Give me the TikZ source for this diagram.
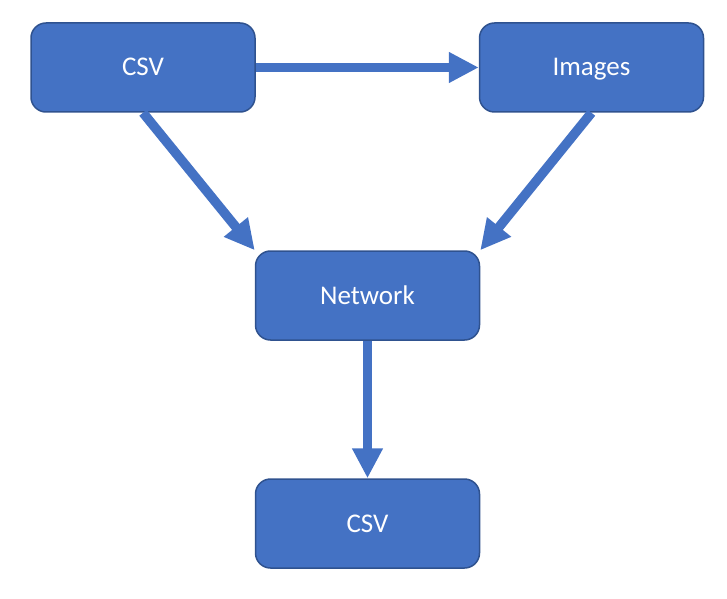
\documentclass[tikz,border=0pt]{standalone}
\usepackage{fontspec}
\setmainfont{Carlito}
\usetikzlibrary{arrows.meta}
\definecolor{boxfill}{HTML}{4472C4}
\definecolor{boxline}{HTML}{2F528F}
\tikzset{
  blockbox/.style={draw=boxline, line width=1.5pt, fill=boxfill, rounded corners=15pt,
    minimum width=224pt, minimum height=89pt, inner sep=0pt, text=white,
    text height=17pt, text depth=-4pt,
    font=\fontsize{27}{32}\selectfont},
  flowarrow/.style={draw=boxfill, line width=9.5pt,
    -{Triangle[length=30pt, width=29pt]}}
}
\begin{document}
\begin{tikzpicture}[x=1pt,y=1pt]
\useasboundingbox (0,0) rectangle (727,598);
\node[blockbox] (csv1) at (143,530.5) {CSV};
\node[blockbox] (img) at (591.5,530.5) {Images};
\node[blockbox] (net) at (367.5,302.5) {Network};
\node[blockbox] (csv2) at (367.5,74.5) {CSV};
\draw[flowarrow] (csv1.east) -- (img.west);
\draw[flowarrow] (csv1.south) -- (net.north west);
\draw[flowarrow] (img.south) -- (net.north east);
\draw[flowarrow] (net.south) -- (csv2.north);
\end{tikzpicture}
\end{document}
